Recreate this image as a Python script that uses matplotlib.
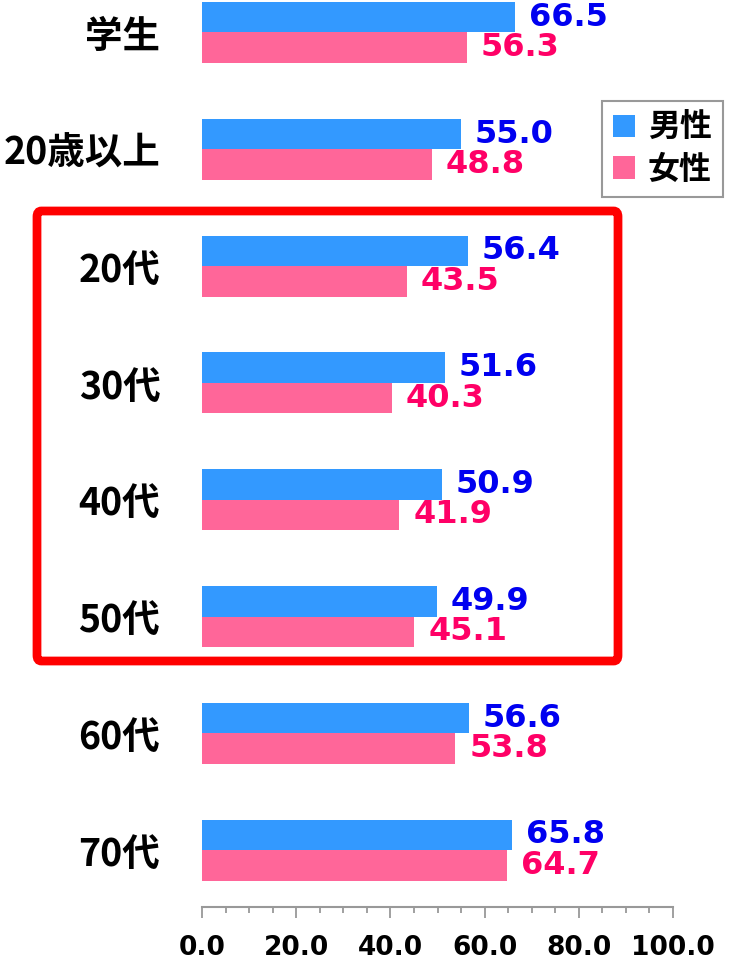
import matplotlib
matplotlib.use("Agg")
import matplotlib.pyplot as plt
from matplotlib.patches import FancyBboxPatch, Patch
from matplotlib.ticker import MultipleLocator
import numpy as np

categories = ["学生", "20歳以上", "20代", "30代", "40代", "50代", "60代", "70代"]
male = [66.5, 55.0, 56.4, 51.6, 50.9, 49.9, 56.6, 65.8]
female = [56.3, 48.8, 43.5, 40.3, 41.9, 45.1, 53.8, 64.7]
series_names = ["男性", "女性"]
x_ticks = [0, 20, 40, 60, 80, 100]

bar_male = "#3399FF"
bar_female = "#FF6699"
txt_male = "#0000F0"
txt_female = "#FF0066"

W, H = 732, 960
fig = plt.figure(figsize=(W / 100, H / 100), dpi=100)
ax = fig.add_axes([202 / W, 1 - 907 / H, 471 / W, 907 / H])

y = np.arange(len(categories))
h = 0.261
ax.barh(y - h / 2, male, height=h, color=bar_male, edgecolor="none")
ax.barh(y + h / 2, female, height=h, color=bar_female, edgecolor="none")

num_font = dict(family="DejaVu Sans", fontweight="bold", fontsize=23)
for i in range(len(categories)):
    ax.annotate(f"{male[i]:.1f}", xy=(male[i], y[i] - h / 2), xytext=(10, 0),
                textcoords="offset points", va="center", ha="left",
                color=txt_male, annotation_clip=False, **num_font)
    ax.annotate(f"{female[i]:.1f}", xy=(female[i], y[i] + h / 2), xytext=(10, 0),
                textcoords="offset points", va="center", ha="left",
                color=txt_female, annotation_clip=False, **num_font)

ax.set_xlim(0, 100)
ax.set_ylim(7.487, -0.278)
ax.set_yticks(y)
ax.set_yticklabels(categories, family=["Noto Sans CJK JP", "DejaVu Sans"],
                   fontweight="bold", fontsize=27)
ax.tick_params(axis="y", length=0, pad=30)

ax.set_xticks(x_ticks)
ax.set_xticklabels([f"{v:.1f}" for v in x_ticks], family="DejaVu Sans",
                   fontweight="bold", fontsize=19)
ax.xaxis.set_minor_locator(MultipleLocator(5))
ax.tick_params(axis="x", which="major", length=8, width=1.3, color="#999999", pad=12)
ax.tick_params(axis="x", which="minor", length=4.5, width=1.3, color="#999999")

for s in ["left", "top", "right"]:
    ax.spines[s].set_visible(False)
ax.spines["bottom"].set_color("#999999")
ax.spines["bottom"].set_linewidth(1.5)

handles = [Patch(facecolor=bar_male, edgecolor="none"),
           Patch(facecolor=bar_female, edgecolor="none")]
leg = fig.legend(handles, series_names, loc="upper right",
                 bbox_to_anchor=(723 / W, 1 - 101 / H),
                 prop={"family": ["Noto Sans CJK JP", "DejaVu Sans"],
                       "weight": "bold", "size": 23},
                 fancybox=False, framealpha=1, edgecolor="#999999",
                 handlelength=0.7, handleheight=0.7, handletextpad=0.4,
                 borderpad=0.35, labelspacing=0.3, borderaxespad=0)
leg.get_frame().set_linewidth(1.5)

rect = FancyBboxPatch((37 / W, 1 - 661 / H), (618 - 37) / W, (661 - 211) / H,
                      boxstyle="round,pad=0,rounding_size=0.006",
                      transform=fig.transFigure, fill=False,
                      edgecolor="#FF0000", linewidth=6.3)
fig.add_artist(rect)

fig.savefig("out.png", dpi=100)
